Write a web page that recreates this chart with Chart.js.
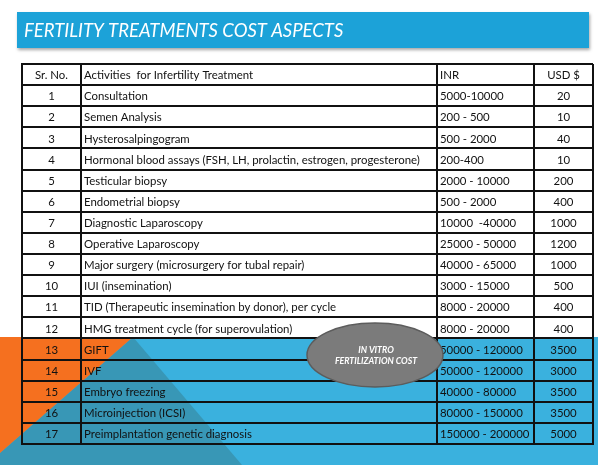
<!DOCTYPE html>
<html>
<head>
<meta charset="utf-8">
<script src="https://cdn.jsdelivr.net/npm/chart.js@4"></script>
<style>
  html, body { margin: 0; padding: 0; background: #fff; }
  #chart { display: block; }
</style>
</head>
<body>
<canvas id="chart" width="598" height="465"></canvas>
<script>
// table data
const headers = ['Sr. No.', 'Activities  for Infertility Treatment', 'INR', 'USD $'];
const srNo = ['1', '2', '3', '4', '5', '6', '7', '8', '9', '10', '11', '12', '13', '14', '15', '16', '17'];
const activities = [
    'Consultation',
    'Semen Analysis',
    'Hysterosalpingogram',
    'Hormonal blood assays (FSH, LH, prolactin, estrogen, progesterone)',
    'Testicular biopsy',
    'Endometrial biopsy',
    'Diagnostic Laparoscopy',
    'Operative Laparoscopy',
    'Major surgery (microsurgery for tubal repair)',
    'IUI (insemination)',
    'TID (Therapeutic insemination by donor), per cycle',
    'HMG treatment cycle (for superovulation)',
    'GIFT',
    'IVF',
    'Embryo freezing',
    'Microinjection (ICSI)',
    'Preimplantation genetic diagnosis'
];
const inrRange = ['5000-10000', '200 - 500', '500 - 2000', '200-400', '2000 - 10000', '500 - 2000',
    '10000  -40000', '25000 - 50000', '40000 - 65000', '3000 - 15000', '8000 - 20000', '8000 - 20000',
    '50000 - 120000', '50000 - 120000', '40000 - 80000', '80000 - 150000', '150000 - 200000'];
const usdCost = [20, 10, 40, 10, 200, 400, 1000, 1200, 1000, 500, 400, 400, 3500, 3000, 3500, 3500, 5000];
const ivfRows = ['13', '14', '15', '16', '17'];

// column edges along the x scale (table width units)
const colEdges = [0, 59, 415, 512, 571];
const rowKeys = ['head'].concat(srNo);

const FONT = 'Lato, "Open Sans", sans-serif';

// background, title bar and white cells
const slidePlugin = {
    id: 'slide',
    beforeDraw(chart) {
        const ctx = chart.ctx;
        const W = chart.width, H = chart.height;
        ctx.save();
        ctx.fillStyle = '#ffffff';
        ctx.fillRect(0, 0, W, H);

        // lower band
        ctx.fillStyle = '#3ab1de';
        ctx.fillRect(0, 337, W, H - 337);
        ctx.fillStyle = '#3897b6';
        ctx.beginPath();
        ctx.moveTo(133, 337);
        ctx.lineTo(0, 453);
        ctx.lineTo(0, H);
        ctx.lineTo(242, H);
        ctx.closePath();
        ctx.fill();
        ctx.fillStyle = '#f5701f';
        ctx.beginPath();
        ctx.moveTo(0, 337);
        ctx.lineTo(133, 337);
        ctx.lineTo(0, 453);
        ctx.closePath();
        ctx.fill();

        // title bar
        ctx.shadowColor = 'rgba(0,0,0,0.35)';
        ctx.shadowBlur = 3;
        ctx.shadowOffsetX = 1;
        ctx.shadowOffsetY = 2;
        ctx.fillStyle = '#1ca2d8';
        ctx.fillRect(17, 12, 572, 36);
        ctx.shadowColor = 'transparent';
        ctx.fillStyle = '#ffffff';
        ctx.font = 'italic 18.5px ' + FONT;
        ctx.textBaseline = 'alphabetic';
        ctx.textAlign = 'left';
        ctx.fillText('FERTILITY TREATMENTS COST ASPECTS', 24, 37);

        // white cells for non-IVF rows
        const x = chart.scales.x, y = chart.scales.y;
        const x0 = x.getPixelForValue(colEdges[0]);
        const x1 = x.getPixelForValue(colEdges[colEdges.length - 1]);
        const half = (y.getPixelForValue(1) - y.getPixelForValue(0)) / 2;
        ctx.fillStyle = '#ffffff';
        rowKeys.forEach((k, i) => {
            if (ivfRows.includes(k)) return;
            const yc = y.getPixelForValue(i);
            ctx.fillRect(x0, yc - half, x1 - x0, half * 2);
        });
        ctx.restore();
    },
    afterDraw(chart) {
        const ctx = chart.ctx;
        const x = chart.scales.x, y = chart.scales.y;
        const px = v => x.getPixelForValue(v);
        ctx.save();
        ctx.fillStyle = '#111';
        ctx.font = '11.4px ' + FONT;
        ctx.textBaseline = 'middle';

        const drawRow = (i, cells) => {
            const yc = y.getPixelForValue(i) + 1;
            ctx.textAlign = 'center';
            ctx.fillText(cells[0], (px(colEdges[0]) + px(colEdges[1])) / 2, yc);
            ctx.textAlign = 'left';
            ctx.fillText(cells[1], px(colEdges[1]) + 3, yc);
            ctx.fillText(cells[2], px(colEdges[2]) + 3, yc);
            ctx.textAlign = 'center';
            ctx.fillText(cells[3], (px(colEdges[3]) + px(colEdges[4])) / 2, yc);
        };
        drawRow(0, headers);
        srNo.forEach((s, i) => drawRow(i + 1, [s, activities[i], inrRange[i], String(usdCost[i])]));

        // IVF callout
        const cx = 375, cy = 355;
        ctx.beginPath();
        ctx.ellipse(cx, cy, 68, 32, 0, 0, Math.PI * 2);
        ctx.fillStyle = '#7b7b7b';
        ctx.fill();
        ctx.lineWidth = 1.5;
        ctx.strokeStyle = '#5c5c5c';
        ctx.stroke();
        ctx.fillStyle = '#ffffff';
        ctx.font = 'italic bold 8.8px ' + FONT;
        ctx.textAlign = 'center';
        ctx.fillText('IN VITRO', cx + 1, cy - 5);
        ctx.fillText('FERTILIZATION COST', cx + 1, cy + 6);
        ctx.restore();
    }
};

new Chart(document.getElementById('chart'), {
    type: 'bar',
    data: {
        labels: rowKeys,
        datasets: []
    },
    options: {
        indexAxis: 'y',
        responsive: false,
        animation: false,
        events: [],
        layout: { padding: { left: 22, top: 64, right: 5, bottom: 21 } },
        plugins: {
            legend: { display: false },
            tooltip: { enabled: false }
        },
        scales: {
            x: {
                type: 'linear',
                min: colEdges[0],
                max: colEdges[colEdges.length - 1],
                afterBuildTicks: s => { s.ticks = colEdges.map(v => ({ value: v })); },
                ticks: { display: false },
                grid: { color: '#111', lineWidth: 2, drawTicks: false },
                border: { display: true, color: '#111', width: 2 }
            },
            y: {
                type: 'category',
                offset: true,
                ticks: { display: false },
                grid: { offset: true, color: '#111', lineWidth: 2, drawTicks: false },
                border: { display: true, color: '#111', width: 2 }
            }
        }
    },
    plugins: [slidePlugin]
});
</script>
</body>
</html>
